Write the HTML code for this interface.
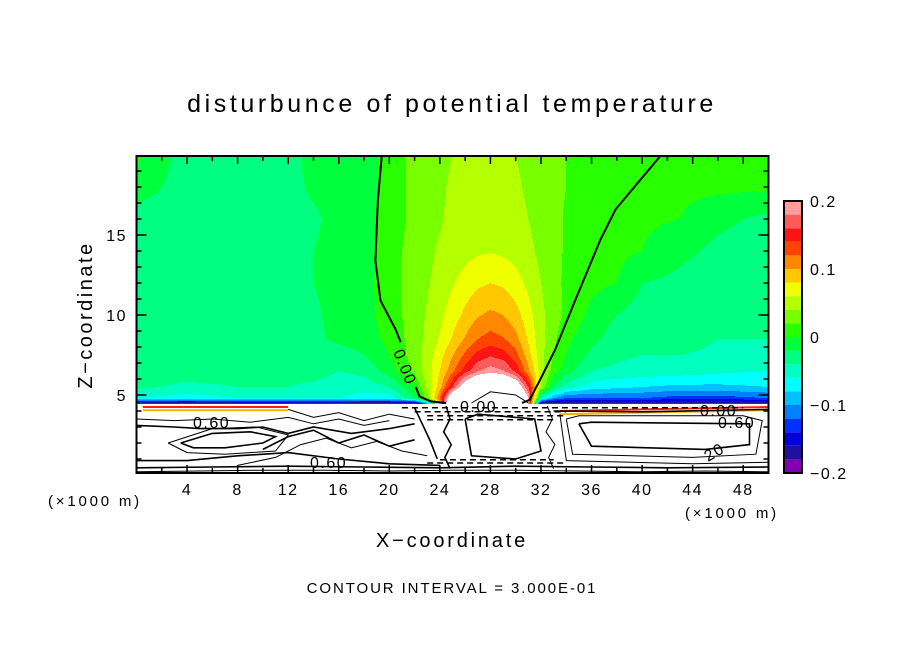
<!DOCTYPE html>
<html><head><meta charset="utf-8">
<style>
html,body{margin:0;padding:0;background:#fff;}
body{width:904px;height:654px;overflow:hidden;font-family:"Liberation Sans",sans-serif;}
svg text{font-family:"Liberation Sans",sans-serif;fill:#000;}
</style></head>
<body>
<svg id="chart" width="904" height="654" viewBox="0 0 904 654" xmlns="http://www.w3.org/2000/svg">
  <text x="452" y="112" font-size="25" text-anchor="middle" letter-spacing="3.6">disturbunce of potential temperature</text>
  <g id="field"></g>
  <g id="contours"></g>
  <g id="axes"></g>
  <g id="cbar"></g>
  <text transform="translate(92,315) rotate(-90)" font-size="20" text-anchor="middle" letter-spacing="2.5">Z−coordinate</text>
  <text x="452" y="547" font-size="20" text-anchor="middle" letter-spacing="2.8">X−coordinate</text>
  <text x="48" y="506" font-size="15" letter-spacing="2.8">(×1000 m)</text>
  <text x="685" y="518" font-size="15" letter-spacing="2.8">(×1000 m)</text>
  <text x="452" y="593" font-size="15" text-anchor="middle" letter-spacing="1.9">CONTOUR INTERVAL = 3.000E-01</text>
</svg>
<script>
// ---- data ----
const xs = [0,4,8,12,14,16,18,20,22,23,24,25,26,27,28,29,30,31,32,33,34,36,38,40,43,46,50];
const zs = [4.45,4.8,5.5,6.5,7.5,8.5,10,12,14,16,18,20];
const row_z4_45 = [-0.19,-0.19,-0.19,-0.19,-0.19,-0.19,-0.19,-0.19,-0.19,-0.1,0.1,0.3,0.3,0.3,0.3,0.3,0.3,0.2,-0.19,-0.19,-0.19,-0.19,-0.19,-0.19,-0.19,-0.19,-0.19];
const row_z4_8 = [-0.06,-0.07,-0.06,-0.06,-0.06,-0.06,-0.07,-0.07,-0.02,0.03,0.12,0.25,0.3,0.3,0.3,0.3,0.3,0.2,-0.05,-0.1,-0.12,-0.12,-0.12,-0.12,-0.13,-0.13,-0.12];
const row_z5_5 = [-0.035,-0.045,-0.04,-0.04,-0.045,-0.05,-0.05,-0.04,0.0,0.045,0.09,0.16,0.23,0.27,0.28,0.27,0.24,0.16,0.04,-0.02,-0.05,-0.07,-0.075,-0.08,-0.085,-0.085,-0.08];
const row_z6_5 = [-0.03,-0.03,-0.03,-0.03,-0.03,-0.04,-0.035,-0.01,0.025,0.05,0.08,0.115,0.15,0.178,0.19,0.182,0.155,0.105,0.05,0.01,-0.01,-0.04,-0.045,-0.048,-0.05,-0.055,-0.06];
const row_z7_5 = [-0.03,-0.03,-0.03,-0.03,-0.03,-0.03,-0.02,0.0,0.03,0.05,0.072,0.098,0.124,0.147,0.157,0.15,0.128,0.088,0.047,0.02,0.0,-0.025,-0.035,-0.04,-0.04,-0.042,-0.045];
const row_z8_5 = [-0.03,-0.03,-0.03,-0.03,-0.025,-0.015,-0.01,0.005,0.03,0.045,0.062,0.082,0.102,0.12,0.128,0.122,0.106,0.077,0.047,0.025,0.005,-0.015,-0.03,-0.035,-0.035,-0.04,-0.04];
const row_z10 = [-0.03,-0.03,-0.03,-0.03,-0.025,-0.01,-0.008,0.01,0.03,0.042,0.055,0.07,0.085,0.098,0.104,0.1,0.088,0.068,0.045,0.03,0.015,-0.005,-0.02,-0.03,-0.03,-0.035,-0.035];
const row_z12 = [-0.03,-0.03,-0.03,-0.03,-0.02,-0.01,-0.008,0.012,0.03,0.038,0.048,0.058,0.068,0.076,0.08,0.077,0.068,0.055,0.04,0.028,0.015,0.005,0.0,-0.02,-0.025,-0.03,-0.03];
const row_z14 = [-0.03,-0.03,-0.03,-0.03,-0.02,-0.01,-0.01,0.012,0.028,0.035,0.043,0.048,0.053,0.057,0.059,0.056,0.052,0.045,0.035,0.025,0.018,0.01,0.005,0.0,-0.015,-0.025,-0.03];
const row_z16 = [-0.03,-0.03,-0.03,-0.03,-0.025,-0.01,-0.01,0.01,0.025,0.03,0.038,0.045,0.05,0.053,0.054,0.053,0.047,0.04,0.032,0.025,0.018,0.012,0.008,0.004,0.0,-0.015,-0.025];
const row_z18 = [-0.01,-0.03,-0.03,-0.03,-0.015,-0.01,-0.01,0.01,0.025,0.03,0.037,0.043,0.047,0.05,0.05,0.048,0.043,0.037,0.03,0.025,0.02,0.015,0.008,0.005,0.005,0.005,0.003];
const row_z20 = [0.005,-0.03,-0.03,-0.03,-0.01,-0.01,-0.01,0.01,0.025,0.03,0.035,0.04,0.045,0.045,0.045,0.045,0.04,0.035,0.03,0.025,0.02,0.015,0.01,0.005,0.005,0.005,0.005];
const levels = [-0.2,-0.18,-0.16,-0.14,-0.12,-0.1,-0.08,-0.06,-0.04,-0.02,0,0.02,0.04,0.06,0.08,0.1,0.12,0.14,0.16,0.18,0.2];
const levelColors = ["#8000b0","#2010a0","#0000dc","#0030ff","#0080ff","#00c0ff","#00ffff","#00ffc0","#00ff80","#00ff3c","#28ff00","#78ff00","#b4ff00","#f0ff00","#ffc800","#ff8800","#ff4400","#ff1414","#ff5a5a","#ff9c9c"];
const cbarLabels = ["0.2","0.1","0","−0.1","−0.2"];
const cbarLabelValues = [0.2,0.1,0,-0.1,-0.2];
const xTicks = [4,8,12,16,20,24,28,32,36,40,44,48];
const zTicks = [5,10,15];
// zero contour lines (x km, z km)
const zeroLeftX = [19.4,19.1,18.9,19.3,20.5,20.9];
const zeroLeftZ = [19.9,17.2,13.4,10.9,9.1,8.3];
const zeroLeft2X = [22.1,22.4,23.3,24.5];
const zeroLeft2Z = [5.5,4.9,4.6,4.5];
const zeroRightX = [41.4,37.9,36.7,34.7,33.1,31.9,31.1,30.5];
const zeroRightZ = [19.9,16.6,14.7,10.9,7.8,5.9,4.7,4.5];
const lowerContours = [
  {x:[3.5,6,9,11,10,7,4.5,3.5], z:[2,2.6,2.7,2.4,2.0,1.7,1.7,2]},
  {x:[2.5,6,9.5,12,11,7,4,2.5], z:[2,2.9,3.0,2.5,1.5,1.3,1.4,2]},
  {x:[0,3,5,8,10,12,14,17,20,22], z:[3.1,3.0,2.9,2.9,3.0,2.6,3.0,2.6,2.9,3.2]},
  {x:[0,3,6,9,12,14,16,18,20], z:[3.5,3.4,3.5,3.3,3.6,3.2,3.5,3.1,3.4]},
  {x:[0,4,8,12,16,20,24], z:[0.9,0.9,1.2,1.4,1.0,0.7,0.6]},
  {x:[8,11,13,15,17,19,21,23], z:[0.6,1.1,1.9,2.3,1.7,2.1,1.5,1.2]},
  {x:[10,12,14,16,18,20,22], z:[1.6,2.4,2.8,2.0,2.5,1.8,2.2]},
  {x:[0,5,10,15,20,25,30,35,40,45,50], z:[0.2,0.25,0.3,0.3,0.25,0.3,0.3,0.25,0.2,0.25,0.2]},
  {x:[0,6,12,18,24,30,36,42,50], z:[0.45,0.5,0.55,0.5,0.45,0.55,0.5,0.45,0.5]},
  {x:[34,34.5,44,49,49.5,48,35,34], z:[3.5,1.3,1.1,1.3,3.4,3.7,3.7,3.5]},
  {x:[35,36,45,48.5,48.5,36,35], z:[3.2,1.8,1.6,1.9,3.2,3.3,3.2]},
  {x:[33.5,34,44,50], z:[3.8,0.9,0.7,0.8]},
  {x:[26,26.5,30,32,31.5,27,26], z:[3.5,1.2,1.0,1.5,3.5,3.8,3.5]},
  {x:[12,14,16,18,20,22], z:[4.1,3.6,3.9,3.4,3.8,3.5]},
  {x:[33,40,50], z:[4.0,3.95,4.1]},
  {x:[26.5,28,30,31], z:[4.5,5.2,5.0,4.5]},
  {x:[24.5,24.8,24.3,24.9,24.4,24.8], z:[4.3,3.5,2.7,1.9,1.1,0.4]},
  {x:[32.5,32.9,32.4,33.1,32.6,33], z:[4.3,3.5,2.7,1.9,1.1,0.4]},
  {x:[22,22.6,23.2,23.8], z:[4.2,3.2,2.2,1.0]}
];
const dashedLevels = [4.2,3.95,3.7,3.45,0.95,0.75];
const dashedX0 = [21,22,23,23,24,23];
const dashedX1 = [48,34,34,33,33,34];
const edgeLinesZ = [4.15,3.95];
const edgeLineColors = ["#ff2000","#ffb000"];
// ---- scales ----
const X0=136.5, X1=768.5, Y0=156, Y1=473;
const xPx = x => X0 + (x-0)*(X1-X0)/50;
const zPx = z => 475 - z*16;
const svgNS="http://www.w3.org/2000/svg";
const rows=[row_z4_45,row_z4_8,row_z5_5,row_z6_5,row_z7_5,row_z8_5,row_z10,row_z12,row_z14,row_z16,row_z18,row_z20];
function idx(arr,v){for(let i=0;i<arr.length-1;i++){if(v<=arr[i+1])return i;}return arr.length-2;}
function val(x,z){
  const i=idx(xs,x), j=idx(zs,z);
  const tx=Math.max(0,Math.min(1,(x-xs[i])/(xs[i+1]-xs[i])));
  const tz=Math.max(0,Math.min(1,(z-zs[j])/(zs[j+1]-zs[j])));
  const a=rows[j][i],b=rows[j][i+1],c=rows[j+1][i],d=rows[j+1][i+1];
  return (a*(1-tx)+b*tx)*(1-tz)+(c*(1-tx)+d*tx)*tz;
}
function colorOf(v){
  if(v>levels[levels.length-1]||v<levels[0])return "#ffffff";
  for(let k=0;k<levelColors.length;k++){if(v<=levels[k+1])return levelColors[k];}
  return "#ffffff";
}
const field=document.getElementById('field');
const bg=document.createElementNS(svgNS,'rect');
bg.setAttribute('x',X0);bg.setAttribute('y',Y0);bg.setAttribute('width',X1-X0);bg.setAttribute('height',Y1-Y0);bg.setAttribute('fill','#fff');


field.appendChild(bg);
const zMin=zs[0];
for(let py=Math.ceil(Y0); py<Y1; py++){
  const z=(475-(py+0.5))/16;
  if(z<zMin)continue;
  let runStart=Math.floor(X0), runCol=null;
  for(let px=Math.floor(X0); px<=Math.ceil(X1); px++){
    let col=null;
    if(px<Math.ceil(X1)){const x=(px+0.5-X0)*50/(X1-X0);col=colorOf(val(Math.max(0,Math.min(50,x)),z));}
    if(col!==runCol){
      if(runCol!==null && runCol!=="#ffffff"){
        const r=document.createElementNS(svgNS,'rect');
        r.setAttribute('x',runStart);r.setAttribute('y',py);r.setAttribute('width',px-runStart);r.setAttribute('height',1);r.setAttribute('fill',runCol);
        
        
        field.appendChild(r);
      }
      runStart=px;runCol=col;
    }
  }
}
// contours
const cg=document.getElementById('contours');
function line(xa,za,w,name,color,dash){
  const p=document.createElementNS(svgNS,'polyline');
  p.setAttribute('points',xa.map((x,i)=>xPx(x).toFixed(1)+','+zPx(za[i]).toFixed(1)).join(' '));
  p.setAttribute('fill','none');p.setAttribute('stroke',color||'#000');p.setAttribute('stroke-width',w);
  if(dash)p.setAttribute('stroke-dasharray',dash);
  
  
  cg.appendChild(p);
}
edgeLinesZ.forEach((z,k)=>{line([0.5,12],[z+0.1,z+0.1],2,'edge-color-line',edgeLineColors[k]);line([33.5,50],[z-0.15,z+0.1],2,'edge-color-line',edgeLineColors[k]);});
line(zeroLeftX,zeroLeftZ,2,'zero-contour-left');
line(zeroLeft2X,zeroLeft2Z,2,'zero-contour-left-lower');
line(zeroRightX,zeroRightZ,2,'zero-contour-right');
lowerContours.forEach((c,k)=>line(c.x,c.z,k%2?1:1.6,'lower-contour'));
dashedLevels.forEach((z,k)=>line([dashedX0[k],dashedX1[k]],[z,z],1.5,'dashed-contour','#000','6 4'));
function lab(t,x,y,rot,name){
  const e=document.createElementNS(svgNS,'text');
  e.textContent=t;e.setAttribute('font-size','16');e.setAttribute('letter-spacing','1.5');
  e.setAttribute('transform','translate('+x+','+y+') rotate('+rot+')');
  
  
  cg.appendChild(e);
}
lab('0.00',393,352,68,'contour-label');
lab('0.00',460,412,0,'contour-label');
lab('0.00',700,416,0,'contour-label');
lab('0.60',718,428,0,'contour-label');
lab('0.60',193,428,0,'contour-label');
lab('0.60',310,468,0,'contour-label');
lab('20',708,462,-30,'contour-label');
// axes
const ax=document.getElementById('axes');
const fr=document.createElementNS(svgNS,'rect');
fr.setAttribute('x',X0);fr.setAttribute('y',Y0);fr.setAttribute('width',X1-X0);fr.setAttribute('height',Y1-Y0);
fr.setAttribute('fill','none');fr.setAttribute('stroke','#000');fr.setAttribute('stroke-width','2');


ax.appendChild(fr);
function tick(x1,y1,x2,y2,name){
  const l=document.createElementNS(svgNS,'line');
  l.setAttribute('x1',x1);l.setAttribute('y1',y1);l.setAttribute('x2',x2);l.setAttribute('y2',y2);
  l.setAttribute('stroke','#000');l.setAttribute('stroke-width','1.5');
  
  
  ax.appendChild(l);
}
for(let x=2;x<50;x+=2){const len=(x%4===0)?8:5;tick(xPx(x),Y0,xPx(x),Y0+len,'x-tick');tick(xPx(x),Y1,xPx(x),Y1-len,'x-tick');}
for(let z=1;z<20;z++){const len=(z%5===0)?10:5;tick(X0,zPx(z),X0+len,zPx(z),'z-tick');tick(X1,zPx(z),X1-len,zPx(z),'z-tick');}
xTicks.forEach(x=>{
  const t=document.createElementNS(svgNS,'text');t.textContent=x;
  t.setAttribute('x',xPx(x));t.setAttribute('y',495);t.setAttribute('font-size','16');t.setAttribute('text-anchor','middle');t.setAttribute('letter-spacing','1.5');
  
  
  ax.appendChild(t);
});
zTicks.forEach(z=>{
  const t=document.createElementNS(svgNS,'text');t.textContent=z;
  t.setAttribute('x',127);t.setAttribute('y',zPx(z)+6);t.setAttribute('font-size','16');t.setAttribute('text-anchor','end');t.setAttribute('letter-spacing','1.5');
  
  
  ax.appendChild(t);
});
// colorbar
const cb=document.getElementById('cbar');
const CB_X=784, CB_W=18, CB_T=201, CB_B=473;
const cbY=v=>CB_B-(v-levels[0])*(CB_B-CB_T)/(levels[levels.length-1]-levels[0]);
levelColors.forEach((c,k)=>{
  const r=document.createElementNS(svgNS,'rect');
  r.setAttribute('x',CB_X);r.setAttribute('y',cbY(levels[k+1]));r.setAttribute('width',CB_W);
  r.setAttribute('height',cbY(levels[k])-cbY(levels[k+1]));r.setAttribute('fill',c);
  
  
  cb.appendChild(r);
});
const cbf=document.createElementNS(svgNS,'rect');
cbf.setAttribute('x',CB_X);cbf.setAttribute('y',CB_T);cbf.setAttribute('width',CB_W);cbf.setAttribute('height',CB_B-CB_T);
cbf.setAttribute('fill','none');cbf.setAttribute('stroke','#000');cbf.setAttribute('stroke-width','2');


cb.appendChild(cbf);
cbarLabels.forEach((s,k)=>{
  const t=document.createElementNS(svgNS,'text');t.textContent=s;
  t.setAttribute('x',810);t.setAttribute('y',cbY(cbarLabelValues[k])+6);t.setAttribute('font-size','16');t.setAttribute('letter-spacing','1.5');
  
  
  cb.appendChild(t);
});
</script>
</body></html>
